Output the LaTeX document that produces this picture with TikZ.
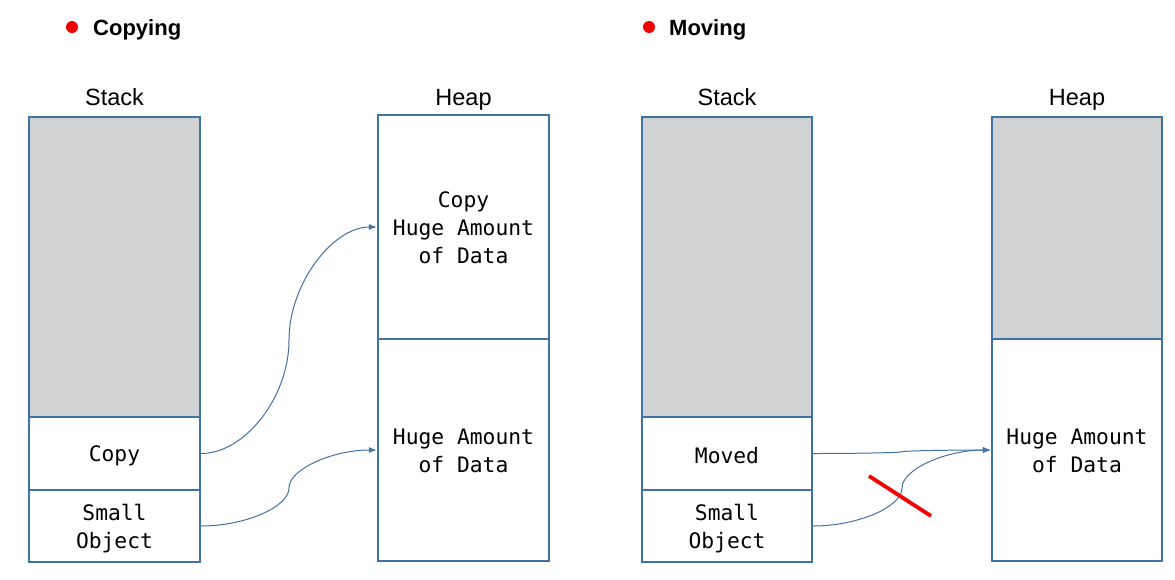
\documentclass[tikz,border=0pt]{standalone}
\usepackage{fontspec}
\setmainfont{Liberation Sans}
\newfontfamily\monofam{DejaVu Sans Mono}
\usetikzlibrary{arrows.meta,calc}
\definecolor{boxblue}{RGB}{65,113,166}
\definecolor{stackgray}{RGB}{208,210,212}
\definecolor{dotred}{RGB}{240,0,0}
\tikzset{
  cell/.style={draw=boxblue, line width=2.3pt, minimum width=171pt, inner sep=0pt},
  graycell/.style={cell, fill=stackgray},
  mono/.style={inner sep=0pt, align=center, font=\monofam\fontsize{21.3}{28}\selectfont},
  label/.style={font=\fontsize{23.5}{28}\selectfont, inner sep=0pt, anchor=base},
  title/.style={font=\bfseries\fontsize{22}{26}\selectfont, inner sep=0pt, anchor=base west},
  bullet/.style={circle, fill=dotred, minimum size=12pt, inner sep=0pt},
  link/.style={draw=boxblue, line width=1pt, -{Latex[length=8pt,width=6pt]}},
  cross/.style={draw=dotred, line width=3.8pt}
}
% curved connector in the manner of an office "curved connector"
\newcommand\pconn[2]{%
  \draw[link] let \p1=(#1), \p2=(#2) in (#1)
    .. controls ({0.75*\x1+0.25*\x2},\y1) and ({0.5*\x1+0.5*\x2},{0.75*\y1+0.25*\y2})
    .. ({0.5*\x1+0.5*\x2},{0.5*\y1+0.5*\y2})
    .. controls ({0.5*\x1+0.5*\x2},{0.25*\y1+0.75*\y2}) and ({0.25*\x1+0.75*\x2},\y2)
    .. (#2);}
\begin{document}
\begin{tikzpicture}[x=1pt,y=-1pt]
\useasboundingbox (0,0) rectangle (1175,579);
% Titles
\node[bullet] (b1) at (72,27) {};
\node[title] (t1) at (93,35) {Copying};
\node[bullet] (b2) at (649,27) {};
\node[title] (t2) at (669,35) {Moving};
% Column labels
\node[label] (ls) at (114.5,105) {Stack};
\node[label] (lh) at (463.5,105) {Heap};
\node[label] (rs) at (727,105) {Stack};
\node[label] (rh) at (1077,105) {Heap};
% Left stack
\node[graycell, minimum height=300pt] (lsg) at (114.5,267) {};
\node[cell, minimum height=73pt] (lcopy) at (114.5,453.5) {};
\node[cell, minimum height=71.5pt] (lsmall) at (114.5,526) {};
% Left heap
\node[cell, minimum height=224pt] (lh1) at (463.5,227) {};
\node[cell, minimum height=222pt] (lh2) at (463.5,450) {};
% Right stack
\node[graycell, minimum height=300pt, minimum width=170pt] (rsg) at (727,267) {};
\node[cell, minimum height=73pt, minimum width=170pt] (rmoved) at (727,453.5) {};
\node[cell, minimum height=71.5pt, minimum width=170pt] (rsmall) at (727,526) {};
% Right heap
\node[graycell, minimum height=222pt, minimum width=170pt] (rh1) at (1077,228) {};
\node[cell, minimum height=222pt, minimum width=170pt] (rh2) at (1077,450) {};
% Texts in the cells
\node[mono] (tlcopy) at ([yshift=-2.5pt]lcopy.center) {Copy};
\node[mono] (tlsmall) at ([yshift=-2.5pt]lsmall.center) {Small\\Object};
\node[mono] (tlh1) at ([yshift=-0.5pt]lh1.center) {Copy\\Huge Amount\\of Data};
\node[mono] (tlh2) at ([yshift=-0.5pt]lh2.center) {Huge Amount\\of Data};
\node[mono] (trmoved) at ([yshift=-2pt]rmoved.center) {Moved};
\node[mono] (trsmall) at ([yshift=-2.5pt]rsmall.center) {Small\\Object};
\node[mono] (trh2) at ([yshift=-0.5pt]rh2.center) {Huge Amount\\of Data};
% Connectors
\pconn{lcopy.east}{lh1.west}
\pconn{lsmall.east}{lh2.west}
\pconn{rmoved.east}{rh2.west}
\pconn{rsmall.east}{rh2.west}
% Red cross
\coordinate (c1) at (869,476);
\coordinate (c2) at (931,516);
\draw[cross] (c1) -- (c2);
\end{tikzpicture}
\end{document}
